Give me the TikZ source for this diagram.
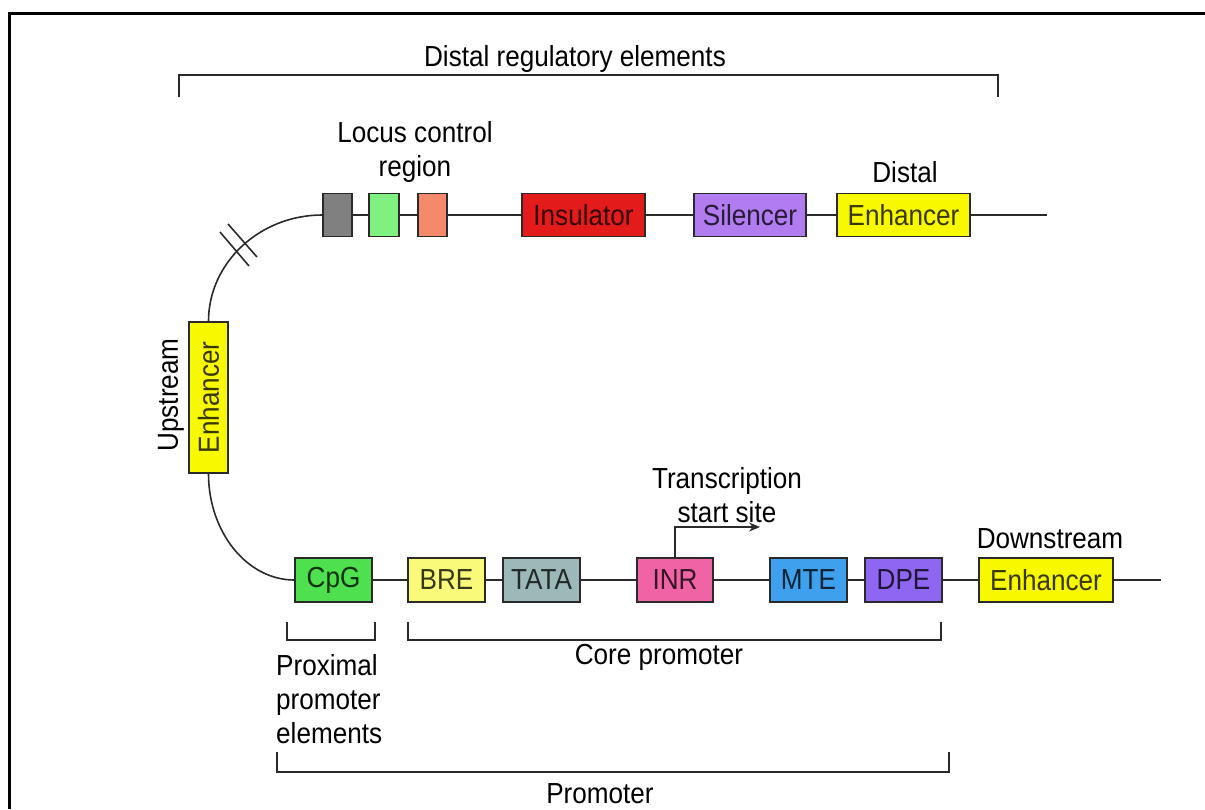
\documentclass[tikz,border=0pt]{standalone}
\usepackage{fontspec}
\setmainfont{Liberation Sans}[FakeStretch=0.9]
\usetikzlibrary{arrows.meta}

% element fills
\definecolor{lcrgray}{HTML}{808080}
\definecolor{lcrgreen}{HTML}{80F080}
\definecolor{lcrsalmon}{HTML}{F4896B}
\definecolor{insred}{HTML}{E31B1B}
\definecolor{silpurple}{HTML}{B07CF0}
\definecolor{enhyellow}{HTML}{F8F800}
\definecolor{cpggreen}{HTML}{4FE04F}
\definecolor{breyellow}{HTML}{FAFA7A}
\definecolor{tatagray}{HTML}{9CB8B8}
\definecolor{inrpink}{HTML}{F064A6}
\definecolor{mteblue}{HTML}{3FA0EE}
\definecolor{dpeviolet}{HTML}{8F66F2}
\definecolor{strand}{HTML}{2A2A2A}

\tikzset{
  elem/.style={draw=strand, line width=1.5pt, inner sep=0pt, fill=#1,
    text=#1!22!black, font=\fontsize{29}{30}\selectfont},
  lbl/.style={inner sep=0pt, font=\fontsize{29}{34}\selectfont, text=black},
  dna/.style={draw=strand, line width=1.6pt},
  brk/.style={draw=strand, line width=1.8pt},
}

\begin{document}
\begin{tikzpicture}[x=1pt, y=-1pt]
\useasboundingbox (0,0) rectangle (1205,809);

% frame
\draw[line width=3pt] (9,809) -- (9,13) -- (1205,13);

% ---- distal region (top strand) ----
\node[elem=lcrgray,   minimum width=29,  minimum height=43] (lcr1) at (337.5,215) {};
\node[elem=lcrgreen,  minimum width=30,  minimum height=43] (lcr2) at (384,215) {};
\node[elem=lcrsalmon, minimum width=29,  minimum height=43] (lcr3) at (432.5,215) {};
\node[elem=insred,    minimum width=123, minimum height=43] (ins)  at (583.5,215) {Insulator};
\node[elem=silpurple, minimum width=112, minimum height=43] (sil)  at (750,215) {Silencer};
\node[elem=enhyellow, minimum width=133, minimum height=43] (denh) at (903.5,215) {Enhancer};
\coordinate (topend) at (1047,215);

\draw[dna] (lcr1.east) -- (lcr2.west);
\draw[dna] (lcr2.east) -- (lcr3.west);
\draw[dna] (lcr3.east) -- (ins.west);
\draw[dna] (ins.east) -- (sil.west);
\draw[dna] (sil.east) -- (denh.west);
\draw[dna] (denh.east) -- (topend);

% ---- upstream enhancer on the loop ----
\node[elem=enhyellow, rotate=90, minimum width=151, minimum height=39] (uenh) at (208.5,397.5) {Enhancer};
\node[lbl, rotate=90] (ulbl) at (171,395) {Upstream};

% ---- proximal / core promoter (bottom strand) ----
\node[elem=cpggreen,  minimum width=77,  minimum height=44] (cpg)  at (333.5,580) {CpG};
\node[elem=breyellow, minimum width=77,  minimum height=44] (bre)  at (446.5,580) {BRE};
\node[elem=tatagray,  minimum width=77,  minimum height=44] (tata) at (541.5,580) {TATA};
\node[elem=inrpink,   minimum width=76,  minimum height=44] (inr)  at (675,580) {INR};
\node[elem=mteblue,   minimum width=77,  minimum height=44] (mte)  at (808.5,580) {MTE};
\node[elem=dpeviolet, minimum width=77,  minimum height=44] (dpe)  at (903.5,580) {DPE};
\node[elem=enhyellow, minimum width=134, minimum height=44] (denh2) at (1046,580) {Enhancer};
\coordinate (botend) at (1161,580);

\draw[dna] (cpg.east) -- (bre.west);
\draw[dna] (bre.east) -- (tata.west);
\draw[dna] (tata.east) -- (inr.west);
\draw[dna] (inr.east) -- (mte.west);
\draw[dna] (mte.east) -- (dpe.west);
\draw[dna] (dpe.east) -- (denh2.west);
\draw[dna] (denh2.east) -- (botend);

% ---- loop joining the two strands ----
\draw[dna] (lcr1.west) .. controls (259.5,215) and (208.5,263) .. (uenh.east);
\draw[dna] (uenh.west) .. controls (208.5,532) and (247,580) .. (cpg.west);

% break mark on the loop
\coordinate (b1a) at (220,232); \coordinate (b1b) at (249,266);
\coordinate (b2a) at (228,224); \coordinate (b2b) at (257,257);
\draw[dna] (b1a) -- (b1b);
\draw[dna] (b2a) -- (b2b);

% ---- transcription start site ----
\coordinate (tssbend) at (675,527);
\coordinate (tsstip) at (760,527);
\draw[dna, -{Stealth[length=11pt,width=9pt]}] (inr.north) -- (tssbend) -- (tsstip);
\node[lbl, align=center] (tsslbl) at (727,495) {Transcription\\start site};

% ---- labels ----
\node[lbl, align=center] (lcrlbl) at (415,152) {Locus control\\region};
\node[lbl] (dlbl) at (905,172) {Distal};
\node[lbl] (dslbl) at (1050,539) {Downstream};

% ---- brackets ----
\coordinate (dra) at (179,97); \coordinate (drb) at (998,97);
\draw[brk] (dra) -- (179,75) -- (998,75) -- (drb);
\node[lbl] (drlbl) at (575,59) {Distal regulatory elements};

\coordinate (ppa) at (287,622); \coordinate (ppb) at (375,622);
\draw[brk] (ppa) -- (287,640) -- (375,640) -- (ppb);
\node[lbl, align=left, anchor=north west] (pplbl) at (276,654) {Proximal\\promoter\\elements};

\coordinate (cpa) at (408,622); \coordinate (cpb) at (941,622);
\draw[brk] (cpa) -- (408,640) -- (941,640) -- (cpb);
\node[lbl] (cplbl) at (659,657) {Core promoter};

\coordinate (pra) at (277,752); \coordinate (prb) at (949,752);
\draw[brk] (pra) -- (277,772) -- (949,772) -- (prb);
\node[lbl] (prlbl) at (600,794) {Promoter};
\end{tikzpicture}
\end{document}
